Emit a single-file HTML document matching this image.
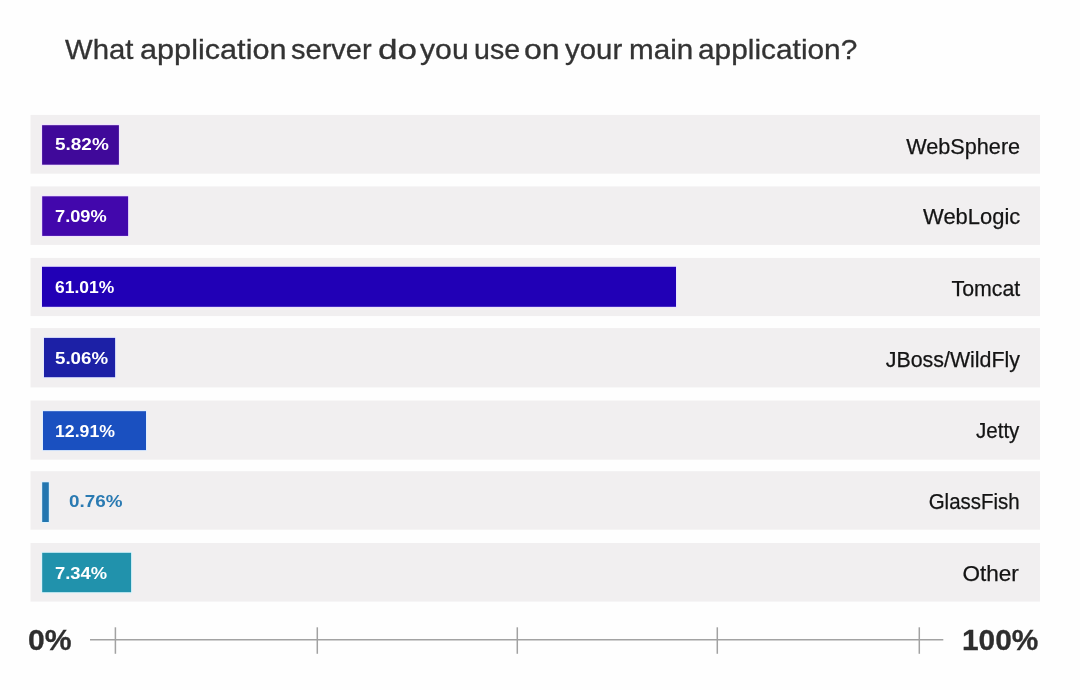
<!DOCTYPE html>
<html><head><meta charset="utf-8">
<style>
html,body{margin:0;padding:0;}
body{width:1080px;height:690px;background:#fefefe;position:relative;overflow:hidden;font-family:"Liberation Sans",sans-serif;}
.title{position:absolute;top:30px;font-size:28px;line-height:40px;color:#333;-webkit-text-stroke:0.3px #333;white-space:nowrap;transform-origin:0 50%;}
#wrap{position:absolute;left:0;top:0;width:1080px;height:690px;will-change:transform;}
.val{position:absolute;font-weight:bold;font-size:16.5px;line-height:20px;color:#fff;white-space:nowrap;transform-origin:0 50%;}
.lab{position:absolute;right:60.5px;font-size:21.5px;line-height:26px;color:#141414;-webkit-text-stroke:0.25px #141414;white-space:nowrap;text-align:right;transform-origin:100% 50%;}
.axl{position:absolute;font-weight:bold;font-size:30px;line-height:32px;color:#2e2e2e;-webkit-text-stroke:0.3px #2e2e2e;white-space:nowrap;transform-origin:0 50%;}
</style></head><body><div id="wrap">
<div class="title" style="left:64.88px;transform:scaleX(1.0464)">What</div><div class="title" style="left:139.65px;transform:scaleX(1.0945)">application</div><div class="title" style="left:290.79px;transform:scaleX(1.0366)">server</div><div class="title" style="left:377.78px;transform:scaleX(1.2538)">do</div><div class="title" style="left:419.91px;transform:scaleX(1.0780)">you</div><div class="title" style="left:473.5px;transform:scaleX(1.0196)">use</div><div class="title" style="left:524.14px;transform:scaleX(1.1451)">on</div><div class="title" style="left:564.94px;transform:scaleX(1.0509)">your</div><div class="title" style="left:629px;transform:scaleX(1.0580)">main</div><div class="title" style="left:697.75px;transform:scaleX(1.0661)">application?</div>

<svg style="position:absolute;left:0;top:0" width="1080" height="620" viewBox="0 0 1080 620"><rect x="30.5" y="114.9" width="1009.5" height="58.8" fill="#f1eff0"/><rect x="30.5" y="186.4" width="1009.5" height="58.5" fill="#f1eff0"/><rect x="30.5" y="257.9" width="1009.5" height="58.2" fill="#f1eff0"/><rect x="30.5" y="328.1" width="1009.5" height="59.3" fill="#f1eff0"/><rect x="30.5" y="400.5" width="1009.5" height="59.2" fill="#f1eff0"/><rect x="30.5" y="471.2" width="1009.5" height="58.5" fill="#f1eff0"/><rect x="30.5" y="543" width="1009.5" height="58.6" fill="#f1eff0"/><rect x="41.1" y="124.2" width="78.8" height="41.5" fill="#f1e3ff"/><rect x="42.1" y="125.2" width="76.8" height="39.5" fill="#40099a"/><rect x="41.2" y="195.3" width="87.9" height="41.6" fill="#f1e3ff"/><rect x="42.2" y="196.3" width="85.9" height="39.6" fill="#4207ac"/><rect x="41" y="265.8" width="636" height="42" fill="#ebe5ff"/><rect x="42" y="266.8" width="634" height="40" fill="#2100b6"/><rect x="43" y="336.9" width="73.1" height="41.3" fill="#e5e9ff"/><rect x="44" y="337.9" width="71.1" height="39.3" fill="#1c20a6"/><rect x="42" y="410.2" width="105" height="40.9" fill="#e1efff"/><rect x="43" y="411.2" width="103" height="38.9" fill="#1a50c0"/><rect x="41.2" y="481.3" width="8.6" height="41.7" fill="#e0f3fd"/><rect x="42.2" y="482.3" width="6.6" height="39.7" fill="#2276b0"/><rect x="41.2" y="551.8" width="90.9" height="41.4" fill="#dcf5fc"/><rect x="42.2" y="552.8" width="88.9" height="39.4" fill="#2192ac"/></svg>
<div class="val" style="left:54.5px;top:134.2px;transform:scaleX(1.1492)">5.82%</div>
<div class="val" style="left:54.9px;top:205.9px;transform:scaleX(1.1047)">7.09%</div>
<div class="val" style="left:55px;top:276.9px;transform:scaleX(1.0578)">61.01%</div>
<div class="val" style="left:54.9px;top:348.4px;transform:scaleX(1.1336)">5.06%</div>
<div class="val" style="left:54.9px;top:420.5px;transform:scaleX(1.0713)">12.91%</div>
<div class="val" style="left:68.9px;top:491.2px;transform:scaleX(1.1413);color:#2a7ab2">0.76%</div>
<div class="val" style="left:54.5px;top:562.9px;transform:scaleX(1.1136)">7.34%</div>
<div class="lab" style="right:59.5px;top:133.6px;transform:scaleX(1.0071)">WebSphere</div>
<div class="lab" style="right:60.1px;top:204.1px;transform:scaleX(1.0201)">WebLogic</div>
<div class="lab" style="right:59.7px;top:275.5px;transform:scaleX(0.9926)">Tomcat</div>
<div class="lab" style="right:60.4px;top:347.1px;transform:scaleX(0.9949)">JBoss/WildFly</div>
<div class="lab" style="right:60.8px;top:418px;transform:scaleX(0.9565)">Jetty</div>
<div class="lab" style="right:60.8px;top:489.4px;transform:scaleX(0.9509)">GlassFish</div>
<div class="lab" style="right:61.4px;top:560.8px;transform:scaleX(1.0480)">Other</div>
<svg style="position:absolute;left:0;top:600px" width="1080" height="90" viewBox="0 600 1080 90"><g stroke="#a2a2a2" stroke-width="1.5" fill="none"><line x1="90" y1="639.7" x2="943.3" y2="639.7"/><line x1="115.4" y1="627.3" x2="115.4" y2="653.8"/><line x1="317.3" y1="627.3" x2="317.3" y2="653.8"/><line x1="517.3" y1="627.3" x2="517.3" y2="653.8"/><line x1="717.3" y1="627.3" x2="717.3" y2="653.8"/><line x1="919.3" y1="627.3" x2="919.3" y2="653.8"/></g></svg>
<div class="axl" style="left:28px;top:623.5px;transform:scaleX(1.005)">0%</div>
<div class="axl" style="left:961.8px;top:623.5px;transform:scaleX(0.995)">100%</div>
</div></body></html>
